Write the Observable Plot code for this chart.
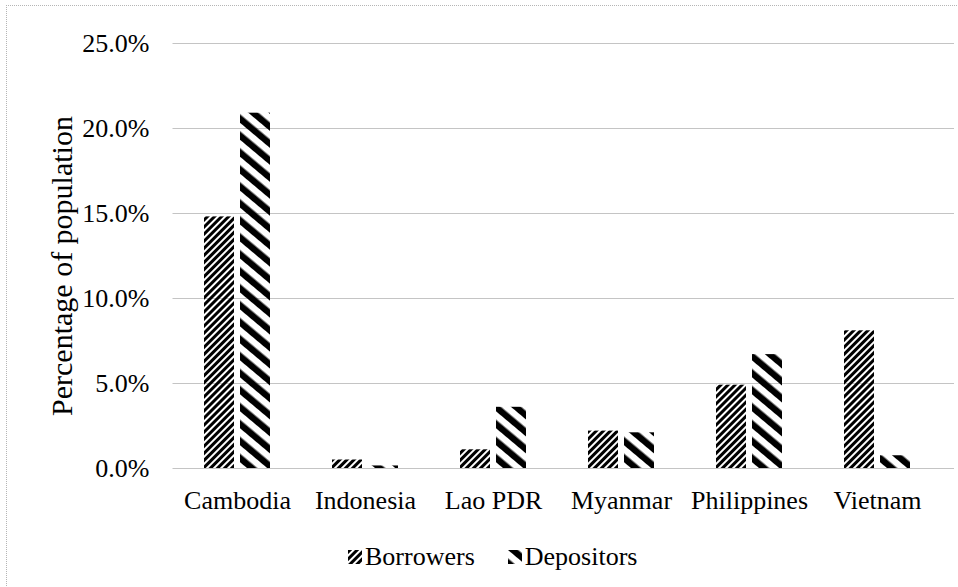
<!DOCTYPE html>
<html>
<head>
<meta charset="utf-8">
<script src="https://cdn.jsdelivr.net/npm/d3@7"></script>
<script src="https://cdn.jsdelivr.net/npm/@observablehq/plot@0.6"></script>
<style>
  html, body { margin: 0; padding: 0; background: #fff; }
  body { font-family: "Liberation Serif", "Times New Roman", serif; color: #000; }
  #wrap { position: relative; width: 958px; height: 587px; overflow: hidden; }
  #frame { position: absolute; left: 6px; top: 5px; width: 1000px; height: 700px;
           border-top: 1px dotted #b5b5b5; border-left: 1px dotted #b5b5b5; pointer-events: none; }
  #chart { position: absolute; left: 0; top: 0; }
  #legend { position: absolute; left: 348px; top: 540px; height: 34px; display: flex; align-items: center;
            font-size: 26px; line-height: 34px; white-space: nowrap; }
  #legend .item { display: flex; align-items: center; }
  #legend .item + .item { margin-left: 33px; }
  #legend svg { margin-right: 3px; }
</style>
</head>
<body>
<svg width="0" height="0" style="position:absolute">
  <defs>
    <pattern id="pat-b" patternUnits="userSpaceOnUse" width="5" height="5" patternTransform="rotate(45)">
      <rect x="0" y="0" width="3" height="5" fill="#000"></rect>
    </pattern>
    <pattern id="pat-d" patternUnits="userSpaceOnUse" width="13" height="13" patternTransform="rotate(-50)">
      <rect x="0" y="0" width="6.5" height="13" fill="#000"></rect>
    </pattern>
  </defs>
</svg>
<div id="wrap">
  <div id="chart"></div>
  <div id="frame"></div>
  <div id="legend"></div>
</div>
<script>
// ---- data ----
const countries = ["Cambodia", "Indonesia", "Lao PDR", "Myanmar", "Philippines", "Vietnam"];
const seriesNames = ["Borrowers", "Depositors"];
const borrowers = [0.148, 0.005, 0.011, 0.022, 0.049, 0.081];
const depositors = [0.209, 0.0015, 0.036, 0.021, 0.067, 0.0075];
const yTicks = [0, 0.05, 0.10, 0.15, 0.20, 0.25];
const yLabel = "Percentage of population";
const patterns = ["url(#pat-b)", "url(#pat-d)"];

const data = countries.flatMap((c, i) => [
  {country: c, series: seriesNames[0], value: borrowers[i]},
  {country: c, series: seriesNames[1], value: depositors[i]}
]);

const serif = '"Liberation Serif", "Times New Roman", serif';

const chart = Plot.plot({
  width: 958,
  height: 530,
  marginTop: 43,
  marginBottom: 62,
  marginLeft: 171,
  marginRight: 16,
  style: {fontFamily: serif, fontSize: "26px", background: "transparent", color: "#000"},
  fx: {domain: countries, paddingInner: 0.486, paddingOuter: 0.243, label: null},
  x: {domain: seriesNames, paddingInner: 0.167, paddingOuter: 0, axis: null},
  y: {domain: [0, 0.25], label: null},
  color: {type: "ordinal", domain: seriesNames, range: patterns},
  marks: [
    Plot.ruleY(yTicks, {stroke: "#c4c4c4", strokeWidth: 1, insetLeft: -31.5, insetRight: -44}),
    Plot.barY(data, {fx: "country", x: "series", y: "value", fill: "series"}),
    Plot.axisFx({anchor: "bottom", tickSize: 0, tickPadding: 22, label: null, fontSize: 26, fontFamily: serif}),
    Plot.axisY({ticks: yTicks, tickFormat: d3.format(".1%"), tickSize: 0, tickPadding: 55, fontSize: 26, fontFamily: serif,
                label: yLabel, labelAnchor: "center", labelOffset: 154, labelArrow: "none"})
  ]
});
document.getElementById("chart").appendChild(chart);

// y label: slightly larger and a bit lower (reference is vertically stretched)
d3.select(chart).selectAll('[aria-label="y-axis label"] text')
  .attr("font-size", 30)
  .attr("font-family", serif)
  .attr("transform", function () { return "translate(0,10) " + (this.getAttribute("transform") || ""); });

// ---- legend ----
const legend = d3.select("#legend");
seriesNames.forEach((s, i) => {
  const item = legend.append("div").attr("class", "item");
  const sw = item.append("svg").attr("width", 14).attr("height", 14);
  sw.append("rect").attr("width", 14).attr("height", 14).attr("fill", patterns[i]);
  item.append("span").text(s);
});
</script>
</body>
</html>
